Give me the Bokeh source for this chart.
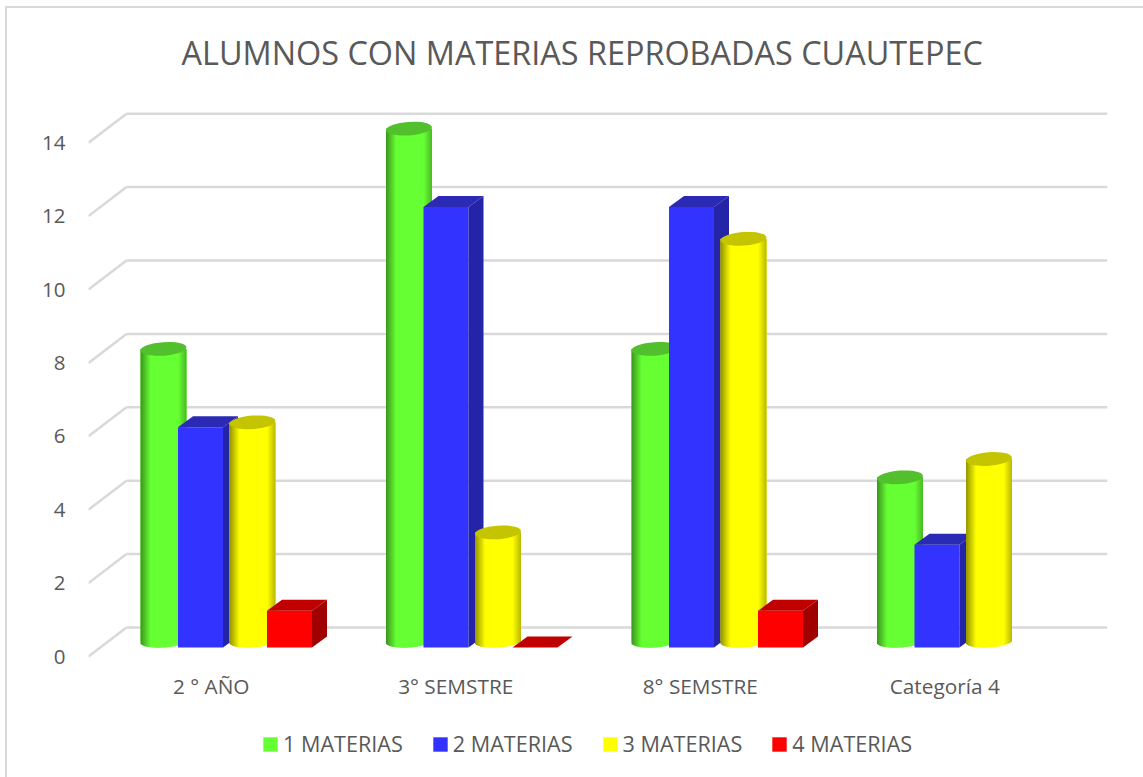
from bokeh.plotting import figure
from bokeh.embed import file_html
from bokeh.resources import INLINE
from bokeh.models import (LinearAxis, FixedTicker, Legend, LegendItem, InlineStyleSheet)
import math

categories = ["2 ° AÑO", "3° SEMSTRE", "8° SEMSTRE", "Categoría 4"]
materias_1 = [8, 14, 8, 4.5]
materias_2 = [6, 12, 12, 2.8]
materias_3 = [6, 3, 11, 5]
materias_4 = [1, 0, 1, None]
series_names = ["1 MATERIAS", "2 MATERIAS", "3 MATERIAS", "4 MATERIAS"]
y_ticks = [0, 2, 4, 6, 8, 10, 12, 14]
title_text = "ALUMNOS CON MATERIAS REPROBADAS CUAUTEPEC"

TEXT = "#595959"
GRID = "#d9d9d9"
FONT = "Open Sans"

PX_X = 245.5      # pixels per category
PX_Y = 36.7       # pixels per value unit
W, H = 1143, 777
FL, FR, FT, FB = 88, 1107, 90, 777  # frame edges on the page
ZERO = 656        # where value 0 of the front plane lies on the page


def dx(px):
    return px / PX_X


def dy(px):
    return px / PX_Y


p = figure(width=W, height=H, output_backend="svg", toolbar_location=None,
           x_range=(0, (FR - FL) / PX_X), y_range=((ZERO - FB) / PX_Y, (ZERO - FT) / PX_Y),
           min_border_left=FL, min_border_right=W - FR,
           min_border_top=FT, min_border_bottom=0,
           x_axis_type=None, y_axis_type=None, outline_line_color=None,
           background_fill_color="white", border_fill_color="white")
p.xgrid.visible = False
p.ygrid.visible = False

p.title.text = title_text
p.title.align = "left"
p.title.offset = 93
p.title.text_color = TEXT
p.title.text_font = FONT
p.title.text_font_size = "32.4px"
p.title.text_font_style = "normal"
p.title.standoff = 34

# value axis
ax = LinearAxis(ticker=FixedTicker(ticks=y_ticks))
ax.axis_line_color = None
ax.major_tick_line_color = None
ax.minor_tick_line_color = None
ax.major_tick_out = 0
ax.major_tick_in = 0
ax.major_label_standoff = 23
ax.major_label_text_color = TEXT
ax.major_label_text_font = FONT
ax.major_label_text_font_size = "20.5px"
p.add_layout(ax, "left")

# category axis, held at value 0 inside the frame
cat_ticks = [round(i + 0.5 - dx(i), 4) for i in range(len(categories))]
cx = LinearAxis(ticker=FixedTicker(ticks=cat_ticks),
                major_label_overrides=dict(zip(cat_ticks, categories)),
                fixed_location=0)
cx.axis_line_color = None
cx.major_tick_line_color = None
cx.minor_tick_line_color = None
cx.major_tick_out = 0
cx.major_tick_in = 0
cx.major_label_standoff = 15
cx.major_label_text_color = TEXT
cx.major_label_text_font = FONT
cx.major_label_text_font_size = "20.8px"
p.add_layout(cx, "below")

# walls: back gridlines and the diagonal from the front plane
depth_x, depth_y = dx(38), dy(29)
p.segment(x0=[depth_x] * len(y_ticks), x1=[(FR - FL) / PX_X] * len(y_ticks),
          y0=[v + depth_y for v in y_ticks], y1=[v + depth_y for v in y_ticks],
          line_color=GRID, line_width=2.5)
p.segment(x0=[0] * len(y_ticks), x1=[depth_x] * len(y_ticks),
          y0=y_ticks, y1=[v + depth_y for v in y_ticks],
          line_color=GRID, line_width=2.5)

GROUP_START = dx(52)
CYL_W = dx(46)
BOX_W = dx(45)
BASE_BOX = dy(9)
BASE_CYL = dy(15)
CYL_TOP_DROP = dy(1)
OFF_X, OFF_Y = dx(15), dy(11)


def lit(c, t):
    return "#%02x%02x%02x" % tuple(int(round(a * t)) for a in c)


def shade(u):
    # u from 0 (left) to 1 (right) across the cylinder
    if u < 0.22:
        return 0.58 + (1 - 0.58) * u / 0.22
    if u > 0.82:
        return 1 - (1 - 0.72) * (u - 0.82) / 0.18
    return 1.0


def cylinder_series(values, offset_px, rgb, top_color, color_hex):
    idx = [i for i, v in enumerate(values) if v is not None]
    lefts = [i + GROUP_START + dx(offset_px) for i in idx]
    tops = [values[i] + BASE_CYL - CYL_TOP_DROP for i in idx]
    base = p.quad(left=lefts, right=[l + CYL_W for l in lefts],
                  bottom=[BASE_CYL] * len(idx), top=tops,
                  fill_color=color_hex, line_color=None)
    n = 46
    sl, sr, sb, st, sc = [], [], [], [], []
    for l, t in zip(lefts, tops):
        for k in range(n):
            u = (k + 0.5) / n
            a = 2 * u - 1
            drop = 6.0 * math.sqrt(max(0, 1 - a * a)) - 1.5 * a
            sl.append(l + CYL_W * k / n)
            sr.append(l + CYL_W * min(k + 1.6, n) / n)
            sb.append(BASE_CYL - dy(drop))
            st.append(t)
            sc.append(lit(rgb, shade(u)))
    p.quad(left=sl, right=sr, bottom=sb, top=st, fill_color=sc, line_color=None)
    p.ellipse(x=[l + CYL_W / 2 for l in lefts], y=tops, width=46, height=13.5,
              width_units="screen", height_units="screen", angle=0.07,
              fill_color=top_color, line_color=None)
    return base


def box_series(values, offset_px, color_hex, top_color, side_color):
    idx = [i for i, v in enumerate(values) if v is not None]
    lefts = [i + GROUP_START + dx(offset_px) for i in idx]
    rights = [l + BOX_W for l in lefts]
    tops = [values[i] + BASE_BOX for i in idx]
    base = p.quad(left=lefts, right=rights, bottom=[BASE_BOX] * len(idx), top=tops,
                  fill_color=color_hex, line_color=None)
    p.patches(xs=[[l, r, r + OFF_X, l + OFF_X] for l, r in zip(lefts, rights)],
              ys=[[t, t, t + OFF_Y, t + OFF_Y] for t in tops],
              fill_color=top_color, line_color=None)
    p.patches(xs=[[r, r + OFF_X, r + OFF_X, r] for r in rights],
              ys=[[BASE_BOX, BASE_BOX + OFF_Y, t + OFF_Y, t] for t in tops],
              fill_color=side_color, line_color=None)
    return base


r1 = cylinder_series(materias_1, 0, (0x66, 0xff, 0x33), "#52c02c", "#66ff33")
r2 = box_series(materias_2, 37.5, "#3333ff", "#2a2ab4", "#2424a8")
r3 = cylinder_series(materias_3, 89, (0xff, 0xff, 0x00), "#c4c400", "#ffff00")
r4 = box_series(materias_4, 126.5, "#ff0000", "#c00000", "#a00000")

legend = Legend(items=[LegendItem(label=n, renderers=[r])
                       for n, r in zip(series_names, [r1, r2, r3, r4])],
                orientation="horizontal", location=(173, 19),
                background_fill_alpha=0, border_line_color=None,
                label_text_color=TEXT, label_text_font=FONT,
                label_text_font_size="21.6px", glyph_width=18, glyph_height=18,
                label_standoff=4, spacing=28, padding=0, margin=0)
p.add_layout(legend)

# chart frame: only its top and left edges fall inside the window
p.stylesheets = [InlineStyleSheet(css=(
    ":host::after{content:'';position:absolute;left:5px;top:6px;right:0;bottom:0;"
    "border-left:2px solid #d9d9d9;border-top:2px solid #d9d9d9;"
    "pointer-events:none;z-index:10}"))]

open("out.html", "w").write(file_html(p, INLINE))
